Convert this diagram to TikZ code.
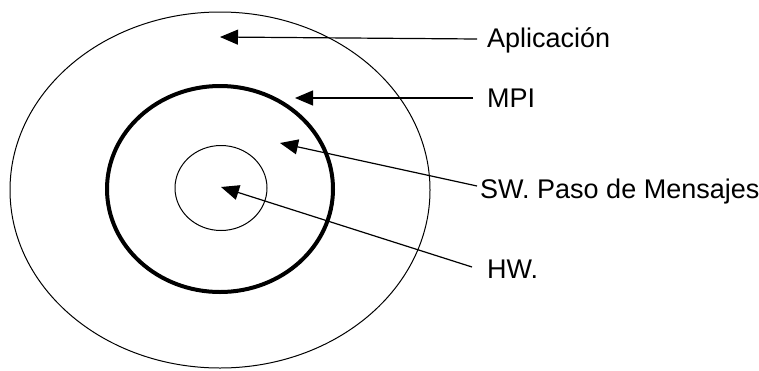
\documentclass[tikz,border=0pt]{standalone}
\usepackage{fontspec}
\setmainfont{Liberation Sans}
\usetikzlibrary{arrows.meta}

\begin{document}
\begin{tikzpicture}[
		x=1pt, y=-1pt,
		layer/.style={
			draw,
			line width=1pt
		},
		mpilayer/.style={
			draw,
			line width=4pt
		},
		tag/.style={
			anchor=base west,
			inner sep=0pt,
			font=\fontsize{27}{31}\selectfont
		},
		arrow/.style={
			-{Triangle[length=18pt, width=15pt]},
			line width=1.2pt
		}
		]
		
		\useasboundingbox (0,0) rectangle (759,370);
		
		% layers
		\draw[layer] (220,190) ellipse [x radius=210, y radius=178];
		\draw[mpilayer] (220,189) ellipse [x radius=113, y radius=103];
		\draw[layer] (221,188) ellipse [x radius=46, y radius=42.5];
		
		% labels
		\node[tag] (app) at (487,47) {Aplicación};
		\node[tag] (mpi) at (487,107) {MPI};
		\node[tag] (sw) at (480,198) {SW. Paso de Mensajes};
		\node[tag] (hw) at (487,278) {HW.};
		
		% arrow targets
		\coordinate (appin) at (220,37);
		\coordinate (mpiin) at (295,98);
		\coordinate (swin) at (280,143);
		\coordinate (hwin) at (221,187);
		
		\coordinate (appout) at (477,39);
		\coordinate (mpiout) at (473,98);
		\coordinate (swout) at (477,186);
		\coordinate (hwout) at (472,267);
		
		\draw[arrow] (appout) -- (appin);
		\draw[arrow] (mpiout) -- (mpiin);
		\draw[arrow] (swout) -- (swin);
		\draw[arrow] (hwout) -- (hwin);
		
	\end{tikzpicture}
\end{document}
